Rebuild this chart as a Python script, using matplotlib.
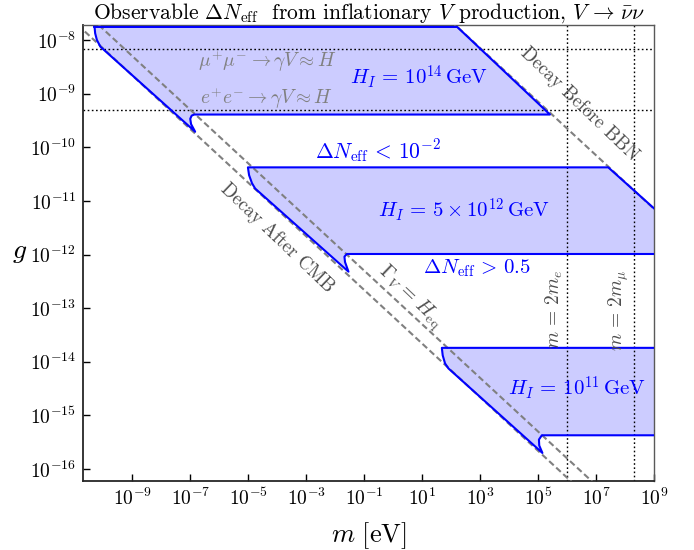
import numpy as np
import matplotlib
matplotlib.use("Agg")
import matplotlib.pyplot as plt

plt.rcParams['mathtext.fontset'] = 'cm'
plt.rcParams['font.family'] = 'serif'
plt.rcParams['font.serif'] = ['cmr10', 'DejaVu Serif']
plt.rcParams['axes.unicode_minus'] = False
plt.rcParams['axes.formatter.use_mathtext'] = True

# ---- data (log10 values) ----
x_limits = [2.0e-11, 1.0e9]
y_limits = [6.0e-17, 1.9e-8]

x_tick_exp = [-9, -7, -5, -3, -1, 1, 3, 5, 7, 9]
y_tick_exp = [-16, -15, -14, -13, -12, -11, -10, -9, -8]

# diagonal reference lines: log10 g = intercept - 0.5 log10 m
cmb_intercept = -13.16     # Decay After CMB
heq_intercept = -12.80     # Gamma_V = H_eq
bbn_intercept = -6.65      # Decay Before BBN
line_slope = -0.5

# horizontal thresholds (g)
g_mumu = 6.8e-9
g_ee = 4.9e-10
# vertical thresholds (m in eV)
m_2me = 1.022e6
m_2mmu = 2.113e8

# H_I = 1e14 GeV region outline (log10 m, log10 g)
r1_logm = [-10.30, -10.28, -10.22, -10.10, -6.83, -6.97, -7.00, -6.95, -6.86, 5.41, 2.21]
r1_logg = [-7.757, -7.875, -8.00, -8.125, -9.71, -9.57, -9.47, -9.41, -9.39, -9.39, -7.757]
# H_I = 5e12 GeV region
r2_logm = [-5.01, -4.97, -4.87, -4.76, -1.54, -1.66, -1.68, -1.60, 9.0, 9.0, 7.42]
r2_logg = [-10.375, -10.52, -10.67, -10.77, -12.32, -12.14, -12.04, -11.99, -11.99, -11.14, -10.375]
# H_I = 1e11 GeV region
r3_logm = [1.68, 1.71, 1.79, 1.91, 5.15, 5.04, 5.03, 5.13, 9.0, 9.0]
r3_logg = [-13.74, -13.88, -14.03, -14.125, -15.70, -15.56, -15.45, -15.37, -15.37, -13.74]

# ---- figure ----
fig = plt.figure(figsize=(6.94, 5.50), dpi=100)
ax = fig.add_axes([0.1196, 0.1255, 0.9424 - 0.1196, 0.9545 - 0.1255])
ax.set_xscale('log')
ax.set_yscale('log')
ax.set_xlim(*x_limits)
ax.set_ylim(*y_limits)

blue = '#0000ff'
fill_col = (0.0, 0.0, 1.0, 0.2)
grey = '#808080'
tgrey = '0.3'

def draw_region(lm, lg, open_at=None):
    m = 10.0 ** np.array(lm)
    g = 10.0 ** np.array(lg)
    ax.fill(m, g, color=fill_col, lw=0, zorder=1)
    if open_at is None:
        mo = np.append(m, m[0]); go = np.append(g, g[0])
    else:
        mo = np.roll(m, -open_at); go = np.roll(g, -open_at)
    ax.plot(mo, go, color=blue, lw=1.5, zorder=4, solid_joinstyle='round')

draw_region(r1_logm, r1_logg)
draw_region(r2_logm, r2_logg, open_at=9)
draw_region(r3_logm, r3_logg, open_at=9)

# diagonal dashed lines
lm_full = np.array([-12.0, 10.0])
dash = (0, (3.0, 1.6))
ax.plot(10 ** lm_full, 10 ** (cmb_intercept + line_slope * lm_full), color=grey, lw=1.5, ls=dash, zorder=3)
ax.plot(10 ** lm_full, 10 ** (heq_intercept + line_slope * lm_full), color=grey, lw=1.5, ls=dash, zorder=3)
lm_bbn = np.array([2.0, 10.0])
ax.plot(10 ** lm_bbn, 10 ** (bbn_intercept + line_slope * lm_bbn), color=grey, lw=1.5, ls=dash, zorder=3)

# dotted threshold lines
dot = (0, (1.2, 1.8))
for gv in [g_mumu, g_ee]:
    ax.axhline(gv, color='black', lw=1.0, ls=dot, zorder=2)
for mv in [m_2me, m_2mmu]:
    ax.axvline(mv, color='black', lw=1.0, ls=dot, zorder=2)

# ticks
ax.set_xticks([10.0 ** e for e in x_tick_exp])
ax.set_xticklabels([r'$10^{%d}$' % e for e in x_tick_exp])
ax.set_yticks([10.0 ** e for e in y_tick_exp])
ax.set_yticklabels([r'$10^{%d}$' % e for e in y_tick_exp])
ax.minorticks_off()
ax.tick_params(direction='in', length=5, width=1.0, labelsize=14, top=False, right=False, pad=5)

for s in ['left', 'bottom']:
    ax.spines[s].set_color('0.15'); ax.spines[s].set_linewidth(1.3)
for s in ['top', 'right']:
    ax.spines[s].set_color('0.35'); ax.spines[s].set_linewidth(1.0)

ax.set_xlabel(r'$m\ [{\rm eV}]$', fontsize=19, labelpad=8)
ax.set_ylabel(r'$g$', fontsize=20, rotation=0, va='center', ha='center')
ax.yaxis.set_label_coords((20 - 83) / (654 - 83), (481 - 252) / (481 - 25))
ax.set_title(r'Observable $\Delta N_{\rm eff}$  from inflationary $V$ production$,\, V\,\to\,\bar{\nu}\nu$',
             fontsize=15.5, pad=4)

# annotations (placed in axes-fraction coordinates)
W = 654 - 83; H = 481 - 25
def af(px, py):
    return ((px - 83) / W, (481 - py) / H)

txt = dict(transform=ax.transAxes, ha='center', va='center', zorder=6)
ax.text(*af(267, 61), r'$\mu^{+}\mu^{-}\to\gamma V\approx H$', color=grey, fontsize=14, **txt)
ax.text(*af(267, 98), r'$e^{+}e^{-}\to\gamma V\approx H$', color=grey, fontsize=14, **txt)
ax.text(*af(419, 77), r'$H_I \,=\, 10^{14}\,{\rm GeV}$', color=blue, fontsize=15, **txt)
ax.text(*af(378, 151), r'$\Delta N_{\rm eff} \,<\, 10^{-2}$', color=blue, fontsize=15.5, **txt)
ax.text(*af(464, 210), r'$H_I \,=\, 5\times 10^{12}\,{\rm GeV}$', color=blue, fontsize=15, **txt)
ax.text(*af(477, 268), r'$\Delta N_{\rm eff} \,>\, 0.5$', color=blue, fontsize=15, **txt)
ax.text(*af(577, 388), r'$H_I \,=\, 10^{11}\,{\rm GeV}$', color=blue, fontsize=15, **txt)

ang = -np.degrees(np.arctan((0.5 * H / 8.22) / (W / 19.69)))
ax.text(*af(579, 104), 'Decay Before BBN', color=tgrey, fontsize=13.5, rotation=ang, rotation_mode='anchor', **txt)
ax.text(*af(277, 238), 'Decay After CMB', color=tgrey, fontsize=13.5, rotation=ang, rotation_mode='anchor', **txt)
ax.text(*af(410, 297), r'$\Gamma_V \,=\, H_{\rm eq}$', color=tgrey, fontsize=14, rotation=ang, rotation_mode='anchor', **txt)
ax.text(*af(554, 309), r'$m \,=\, 2m_e$', color=tgrey, fontsize=14, rotation=90, **txt)
ax.text(*af(619, 310), r'$m \,=\, 2m_\mu$', color=tgrey, fontsize=14, rotation=90, **txt)

fig.savefig('out.png', dpi=100)
